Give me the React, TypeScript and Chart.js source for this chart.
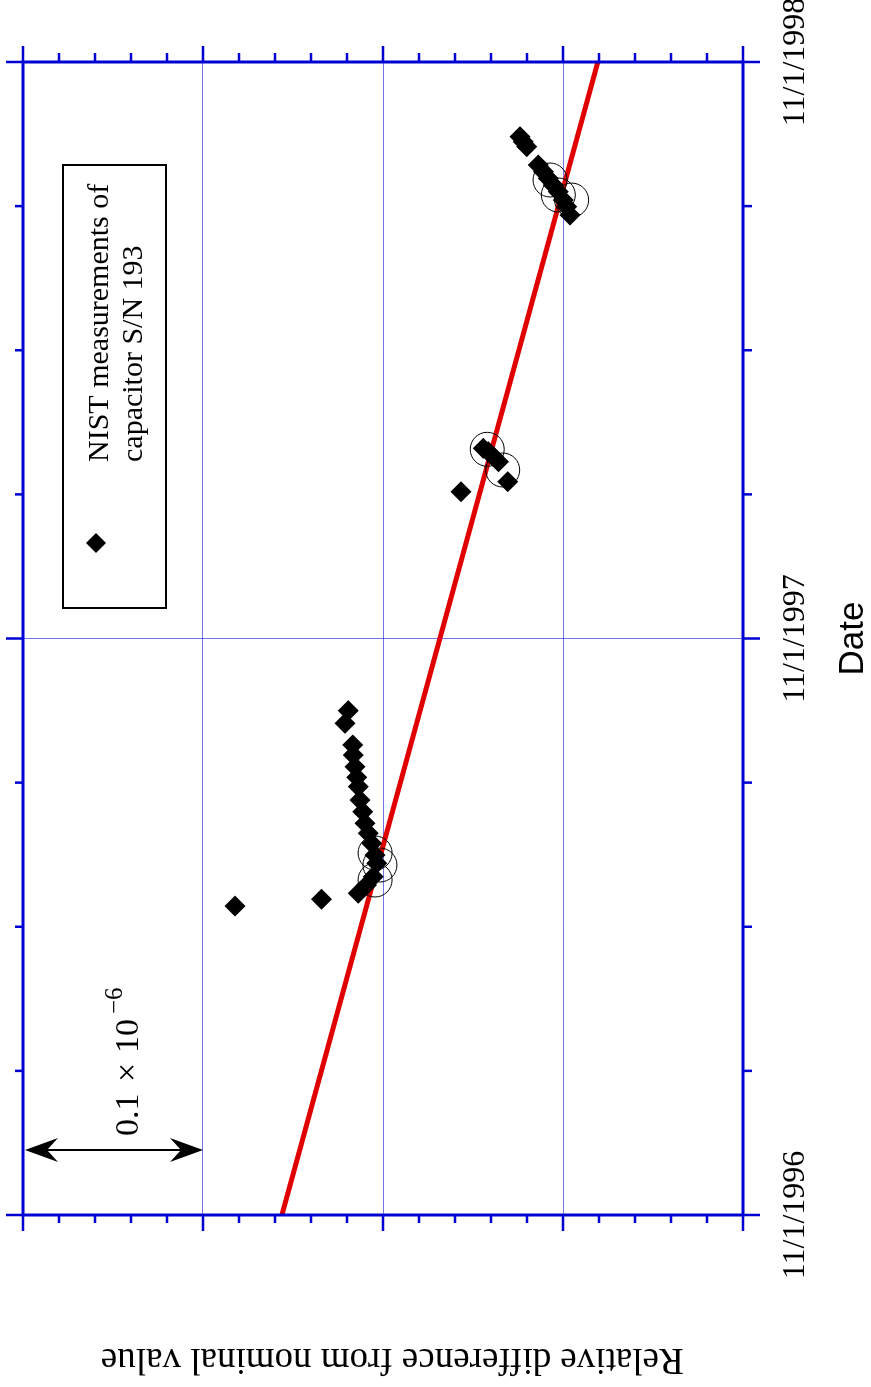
import React, { useEffect, useRef } from 'react';
import { Chart, registerables } from 'chart.js';

Chart.register(...registerables);

// Canvas is drawn in the chart's own (unrotated) frame, then turned 90° by CSS.
const W = 1387;
const H = 871;

// Dates are days since 11/1/1996; values are relative differences (units of 1e-6, arbitrary offset)
const measDays = [319.3, 311.3, 297.6, 291.2, 283.8, 277.1, 271.2, 262.7, 255.3, 248.0, 241.7, 235.3, 227.9, 222.7, 214.2, 208.9, 203.7, 199.9, 195.6,
  485.4, 483.3, 480.1, 476.9, 464.3, 457.9,
  682.7, 679.5, 676.4, 664.8, 660.5, 656.3, 652.1, 647.9, 642.6, 638.4, 633.1];
const measValues = [0.0193, 0.0211, 0.0168, 0.0165, 0.0156, 0.0146, 0.0137, 0.0128, 0.0113, 0.0100, 0.0082, 0.0063, 0.0044, 0.0035, 0.0054, 0.0091, 0.0137, 0.0341, 0.0822,
  -0.0557, -0.0585, -0.0613, -0.0641, -0.0693, -0.0433,
  -0.0761, -0.0779, -0.0798, -0.0863, -0.0891, -0.0918, -0.0946, -0.0974, -0.1002, -0.1021, -0.1039];

const circleDays = [229.2, 221.6, 212.1, 484.8, 471.7, 655.3, 645.8, 642.6];
const circleValues = [0.0044, 0.0017, 0.0044, -0.0579, -0.0665, -0.0928, -0.0974, -0.1048];

const fitDays = [0, 730];
const fitValues = [0.0561, -0.1194];

const dateTickDays = [0, 365, 730];
const dateTickLabels = ['11/1/1996', '11/1/1997', '11/1/1998'];
const dateMinorDays = [0, 91.25, 182.5, 273.75, 365, 456.25, 547.5, 638.75, 730];
const valueMajorTicks = [-0.2, -0.1, 0, 0.1, 0.2];
const valueMinorTicks = [-0.18, -0.16, -0.14, -0.12, -0.08, -0.06, -0.04, -0.02, 0.02, 0.04, 0.06, 0.08, 0.12, 0.14, 0.16, 0.18];

const legendLines = ['NIST measurements of', 'capacitor S/N 193'];
const yTitle = 'Relative difference from nominal value  ';
const xTitle = 'Date';

const BLUE = '#0000d2';
const GRID = 'rgba(0,0,210,0.55)';
const SERIF = '"Liberation Serif", "Times New Roman", serif';
const SANS = '"Liberation Sans", Arial, sans-serif';

const framePlugin = {
  id: 'frame',
  afterDraw(chart: any) {
    const { ctx, chartArea: a, scales } = chart;
    const xs = scales.x;
    const ys = scales.y;
    ctx.save();
    ctx.strokeStyle = BLUE;
    ctx.lineCap = 'butt';
    ctx.lineWidth = 2.5;
    ctx.beginPath();
    dateMinorDays.forEach((d) => {
      const px = xs.getPixelForValue(d);
      const major = dateTickDays.includes(d);
      ctx.moveTo(px, a.bottom);
      ctx.lineTo(px, a.bottom + (major ? 17 : 9));
      ctx.moveTo(px, a.top);
      ctx.lineTo(px, a.top - (major ? 17 : 8));
    });
    const allV = [...valueMajorTicks.map((v) => [v, 1]), ...valueMinorTicks.map((v) => [v, 0])];
    allV.forEach(([v, m]) => {
      const py = ys.getPixelForValue(v);
      ctx.moveTo(a.left, py);
      ctx.lineTo(a.left - (m ? 16 : 8), py);
      ctx.moveTo(a.right, py);
      ctx.lineTo(a.right + (m ? 16 : 9), py);
    });
    ctx.stroke();
    ctx.lineWidth = 3;
    ctx.strokeRect(a.left, a.top, a.right - a.left, a.bottom - a.top);

    // legend box
    ctx.strokeStyle = '#000';
    ctx.lineWidth = 2;
    ctx.strokeRect(779, 63, 443, 103);
    ctx.fillStyle = '#000';
    ctx.beginPath();
    const lx = 844, ly = 96, lr = 10;
    ctx.moveTo(lx - lr, ly);
    ctx.lineTo(lx, ly - lr);
    ctx.lineTo(lx + lr, ly);
    ctx.lineTo(lx, ly + lr);
    ctx.closePath();
    ctx.fill();
    ctx.font = `30px ${SERIF}`;
    ctx.textAlign = 'left';
    ctx.textBaseline = 'alphabetic';
    ctx.fillText(legendLines[0], 925, 108);
    ctx.fillText(legendLines[1], 925, 142);

    // scale bar: one grid step = 0.1 × 10^-6
    const v0 = ys.getPixelForValue(0.2);
    const v1 = ys.getPixelForValue(0.1);
    const au = 237;
    ctx.strokeStyle = '#000';
    ctx.lineWidth = 2;
    ctx.beginPath();
    ctx.moveTo(au, v0 + 20);
    ctx.lineTo(au, v1 - 20);
    ctx.stroke();
    const head = (tip: number, dir: number) => {
      ctx.beginPath();
      ctx.moveTo(au, tip);
      ctx.lineTo(au - 12, tip + dir * 33);
      ctx.lineTo(au, tip + dir * 22);
      ctx.lineTo(au + 12, tip + dir * 33);
      ctx.closePath();
      ctx.fill();
    };
    head(v0 + 2, 1);
    head(v1, -1);
    ctx.font = `34px ${SERIF}`;
    ctx.fillText('0.1', 251, 138);
    ctx.fillText('\u00d7', 305, 138);
    ctx.fillText('10', 334, 138);
    ctx.font = `25px ${SERIF}`;
    ctx.fillText('\u22126', 373, 122);
    ctx.restore();
  },
};

export default function App() {
  const ref = useRef<HTMLCanvasElement | null>(null);
  useEffect(() => {
    if (!ref.current) return;
    const chart = new Chart(ref.current, {
      type: 'scatter',
      data: {
        datasets: [
          {
            label: 'circles',
            data: circleDays.map((d, i) => ({ x: d, y: circleValues[i] })),
            pointStyle: 'circle',
            pointRadius: 17,
            backgroundColor: 'rgba(0,0,0,0)',
            borderColor: '#000',
            borderWidth: 1,
            order: 0,
          },
          {
            label: 'NIST measurements of capacitor S/N 193',
            data: measDays.map((d, i) => ({ x: d, y: measValues[i] })),
            pointStyle: 'rectRot',
            pointRadius: 10.5,
            backgroundColor: '#000',
            borderColor: '#000',
            borderWidth: 0,
            order: 1,
          },
          {
            label: 'fit',
            data: fitDays.map((d, i) => ({ x: d, y: fitValues[i] })),
            showLine: true,
            pointRadius: 0,
            borderColor: '#e00000',
            borderWidth: 5,
            order: 2,
          },
        ],
      },
      options: {
        animation: false,
        responsive: false,
        devicePixelRatio: 1,
        layout: { padding: { top: 23, right: 62, left: 0, bottom: 0 } },
        plugins: { legend: { display: false }, tooltip: { enabled: false } },
        scales: {
          x: {
            type: 'linear',
            position: 'bottom',
            min: 0,
            max: 730,
            afterBuildTicks: (s: any) => {
              s.ticks = dateTickDays.map((v) => ({ value: v }));
            },
            afterFit: (s: any) => {
              s.height = H - 743;
              s.paddingLeft = 0;
              s.paddingRight = 0;
            },
            ticks: {
              callback: (v: any) => {
                const i = dateTickDays.indexOf(Number(v));
                return i >= 0 ? dateTickLabels[i] : '';
              },
              font: { family: SERIF, size: 32 },
              color: '#000',
              padding: 33,
              maxRotation: 0,
              autoSkip: false,
            },
            grid: { color: GRID, lineWidth: 1, drawTicks: false },
            border: { display: false },
            title: {
              display: true,
              text: xTitle,
              font: { family: SANS, size: 35, lineHeight: 1 },
              color: '#000',
              padding: { top: 2, bottom: 0 },
            },
          },
          y: {
            type: 'linear',
            position: 'left',
            min: -0.2,
            max: 0.2,
            afterBuildTicks: (s: any) => {
              s.ticks = valueMajorTicks.map((v) => ({ value: v }));
            },
            afterFit: (s: any) => {
              s.width = 172;
              s.paddingTop = 0;
              s.paddingBottom = 0;
            },
            ticks: { display: false },
            grid: { color: GRID, lineWidth: 1, drawTicks: false },
            border: { display: false },
            title: {
              display: true,
              text: yTitle,
              font: { family: SERIF, size: 37, lineHeight: 1 },
              color: '#000',
              padding: { top: 10, bottom: 0 },
            },
          },
        },
      },
      plugins: [framePlugin],
    } as any);
    return () => chart.destroy();
  }, []);

  return (
    <div style={{ position: 'fixed', left: 0, top: 0, width: 871, height: 1387, overflow: 'hidden', background: '#fff' }}>
      <canvas
        ref={ref}
        width={W}
        height={H}
        style={{
          position: 'absolute',
          left: 0,
          top: 0,
          width: `${W}px`,
          height: `${H}px`,
          transformOrigin: '0 0',
          transform: `translateY(${W}px) rotate(-90deg)`,
        }}
      />
    </div>
  );
}
